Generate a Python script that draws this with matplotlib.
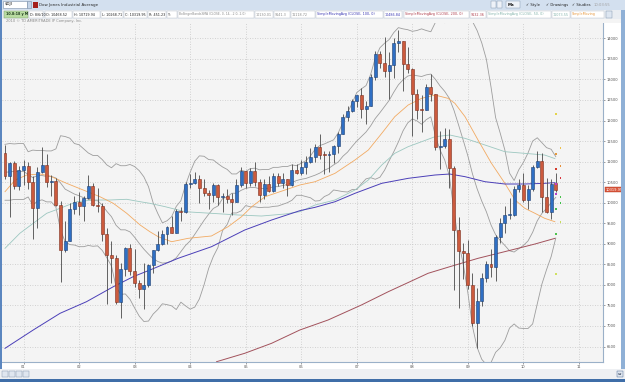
import numpy as np
import matplotlib.pyplot as plt
from matplotlib.patches import Rectangle

# monthly $DJI candles, Sep 2000 .. Aug 2010 (index 0 = Sep 2000)
opens = [11215, 10651, 10971, 10415,
         10788, 10887, 10495, 9879, 10735, 10912, 10502, 10523, 9950, 8848, 9075, 9852,
         10022, 9920, 10106, 10404, 9946, 9925, 9243, 8737, 8664, 7592, 8397, 8896,
         8342, 8054, 7891, 7992, 8480, 8850, 8985, 9234, 9416, 9275, 9801, 9782,
         10454, 10488, 10584, 10358, 10226, 10188, 10435, 10140, 10174, 10080, 10027, 10428,
         10783, 10490, 10766, 10504, 10193, 10467, 10275, 10641, 10482, 10569, 10440, 10806,
         10718, 10865, 10993, 11109, 11367, 11168, 11150, 11186, 11381, 11679, 12081, 12222,
         12463, 12622, 12269, 12354, 13063, 13628, 13409, 13212, 13358, 13896, 13930, 13372,
         13265, 12650, 12266, 12263, 12820, 12638, 11350, 11378, 11544, 10851, 9325, 8829,
         8776, 8001, 7063, 7609, 8168, 8500, 8447, 9172, 9496, 9712, 9713, 10345,
         10428, 10067, 10325, 10857, 11009, 10137, 9774, 10468]
highs = [11401, 10984, 11011, 10899,
         11029, 10983, 10652, 10879, 11350, 11175, 10663, 10610, 10033, 9546, 9982, 10171,
         10259, 10164, 10673, 10479, 10352, 9997, 9380, 9077, 8734, 8538, 8932, 8994,
         8870, 8109, 8522, 8515, 8850, 9323, 9338, 9428, 9686, 9837, 9899, 10494,
         10702, 10754, 10678, 10571, 10297, 10480, 10445, 10240, 10342, 10239, 10572, 10868,
         10783, 10842, 10984, 10570, 10569, 10650, 10720, 10720, 10720, 10570, 10938, 10940,
         11048, 11137, 11335, 11421, 11670, 11247, 11253, 11415, 11725, 12167, 12361, 12529,
         12630, 12795, 12470, 13120, 13692, 13692, 14022, 13657, 14000, 14198, 13930, 13779,
         13279, 12767, 12622, 12892, 13136, 12638, 11734, 11809, 11790, 10882, 9654, 9026,
         9088, 8280, 7925, 8281, 8587, 8878, 9214, 9631, 9918, 10119, 10406, 10580,
         10730, 10433, 10908, 11258, 11206, 10594, 10580, 10720]
lows = [10588, 9654, 10333, 10318,
        10434, 10339, 9106, 9389, 10716, 10371, 10175, 9918, 8062, 8803, 9060, 9729,
        9712, 9555, 10100, 9909, 9770, 9064, 7532, 8043, 7528, 7197, 8226, 8232,
        7945, 7673, 7417, 7958, 8285, 8817, 8961, 9000, 9275, 9275, 9560, 9754,
        10368, 10448, 10004, 10171, 9852, 10027, 9938, 9784, 9996, 9708, 10028, 10390,
        10368, 10408, 10404, 10012, 10094, 10271, 10270, 10397, 10351, 10156, 10406, 10688,
        10662, 10700, 10960, 10990, 11059, 10698, 10739, 10960, 11204, 11663, 11988, 12196,
        12339, 12050, 11926, 12354, 12979, 13266, 13054, 12518, 13029, 13675, 12724, 13168,
        11634, 12047, 11731, 12264, 12480, 11288, 10827, 11335, 10365, 7882, 7449, 8149,
        7909, 7009, 6470, 7494, 8065, 8187, 8088, 9019, 9253, 9594, 9669, 10259,
        10025, 9835, 10276, 10853, 9774, 9757, 9614, 10269]
closes = [10651, 10971, 10415, 10788,
          10887, 10495, 9879, 10735, 10912, 10502, 10523, 9950, 8848, 9075, 9852, 10022,
          9920, 10106, 10404, 9946, 9925, 9243, 8737, 8664, 7592, 8397, 8896, 8342,
          8054, 7891, 7992, 8480, 8850, 8985, 9234, 9416, 9275, 9801, 9782, 10454,
          10488, 10584, 10358, 10226, 10188, 10435, 10140, 10174, 10080, 10027, 10428, 10783,
          10490, 10766, 10504, 10193, 10467, 10275, 10641, 10482, 10569, 10440, 10806, 10718,
          10865, 10993, 11109, 11367, 11168, 11150, 11186, 11381, 11679, 12081, 12222, 12463,
          12622, 12269, 12354, 13063, 13628, 13409, 13212, 13358, 13896, 13930, 13372, 13265,
          12650, 12266, 12263, 12820, 12638, 11350, 11378, 11544, 10851, 9325, 8829, 8776,
          8001, 7063, 7609, 8168, 8500, 8447, 9172, 9496, 9712, 9713, 10345, 10428,
          10067, 10325, 10857, 11009, 10137, 9774, 10466, 10320]

# BollingerBandsSMA (14, 2.0), one value per candle
bb_upper = [11420, 11440, 11430, 11440, 11440, 11240, 11280, 11270, 11270, 11260, 11260, 11310,
            11630, 11610, 11570, 11440, 11410, 11310, 11210, 11150, 11150, 11050, 10920, 10850,
            10950, 10900, 10900, 10930, 10880, 10780, 10630, 10390, 10000, 9740, 9510, 9560,
            9660, 9910, 10050, 10430, 10740, 11010, 11140, 11130, 11050, 11040, 10950, 10870,
            10810, 10700, 10700, 10790, 10760, 10830, 10840, 10800, 10810, 10810, 10860, 10860,
            10880, 10880, 10920, 10900, 10960, 11020, 11140, 11300, 11390, 11430, 11480, 11530,
            11700, 11950, 12190, 12420, 12680, 12770, 12850, 13120, 13520, 13770, 13880, 13970,
            14140, 14260, 14230, 14210, 14170, 14190, 14230, 14190, 14160, 14390, 14410, 14380,
            14430, 14710, 14730, 14540, 14470, 14410, 14190, 13890, 13490, 12820, 12070, 11690,
            11280, 10720, 10540, 10800, 10980, 11210, 11500, 11580, 11460, 11340, 11300, 11120]
bb_middle = [10740, 10750, 10760, 10760, 10760, 10690, 10610, 10660, 10660, 10640, 10640, 10600,
             10480, 10330, 10270, 10210, 10170, 10120, 10090, 10050, 10050, 9940, 9790, 9660,
             9450, 9340, 9340, 9290, 9160, 9010, 8870, 8750, 8640, 8570, 8530, 8540,
             8580, 8660, 8810, 8960, 9070, 9230, 9400, 9570, 9720, 9860, 9920, 10100,
             10140, 10230, 10230, 10300, 10350, 10370, 10370, 10340, 10350, 10350, 10390, 10390,
             10420, 10440, 10490, 10540, 10570, 10590, 10630, 10670, 10720, 10790, 10840, 10920,
             10990, 11130, 11230, 11370, 11500, 11610, 11720, 11870, 12050, 12190, 12340, 12490,
             12690, 12870, 12990, 13080, 13110, 13090, 13070, 13110, 13130, 13000, 12840, 12710,
             12540, 12250, 11890, 11520, 11140, 10700, 10340, 10040, 9780, 9460, 9220, 9080,
             8960, 8830, 8800, 8880, 8960, 9070, 9280, 9560, 9740, 9860, 10000, 10130]
bb_lower = [10060, 10060, 10080, 10080, 10080, 10140, 9940, 10040, 10070, 10020, 10020, 9890,
            9330, 9050, 8980, 8970, 8930, 8930, 8960, 8940, 8950, 8840, 8660, 8460,
            7950, 7770, 7780, 7650, 7440, 7240, 7110, 7120, 7290, 7400, 7540, 7520,
            7490, 7400, 7580, 7490, 7410, 7460, 7660, 8000, 8400, 8690, 8910, 9320,
            9470, 9750, 9750, 9800, 9930, 9900, 9900, 9880, 9890, 9890, 9910, 9920,
            9960, 10000, 10060, 10180, 10180, 10150, 10120, 10040, 10050, 10150, 10200, 10310,
            10290, 10270, 10260, 10320, 10320, 10460, 10580, 10610, 10570, 10620, 10790, 11020,
            11240, 11480, 11750, 11940, 12040, 11990, 11910, 12020, 12090, 11620, 11280, 11040,
            10650, 9800, 9050, 8510, 7810, 6990, 6480, 6190, 6060, 6110, 6360, 6470,
            6650, 6950, 7050, 6950, 6940, 6940, 7050, 7540, 8020, 8370, 8690, 9140]

# moving averages: (month index, value)
sma20_x = [0, 2.2, 4.7, 7.6, 9.7, 13.3, 16.9, 20.5, 23.4, 26.3, 29.2, 31.3, 33.1, 36, 39.6, 44.6,
           48.2, 51.1, 53.3, 56.2, 60.5, 63.7, 67, 71.3, 75.6, 78.5, 81.4, 84.2, 87.1, 90, 92.9,
           95.7, 97.2, 99.4, 102.2, 105.1, 108, 110.2, 112.3, 114.5, 116.6, 118.8]
sma20_y = [10268, 10552, 10674, 10698, 10650, 10472, 10309, 10146, 9985, 9742, 9457, 9294, 9173,
           9051, 9134, 9190, 9416, 9659, 9903, 10146, 10309, 10431, 10511, 10715, 11039, 11282,
           11688, 12092, 12377, 12540, 12620, 12540, 12418, 12092, 11526, 10959, 10472, 10066,
           9864, 9742, 9620, 9538]
sma50_x = [0, 3.2, 6.1, 9, 11.9, 15.5, 19.1, 22.7, 26.3, 29.2, 31.3, 34.6, 38.9, 44.6, 50.4,
           55.4, 60.5, 63.7, 67, 71.3, 75.6, 78.5, 81.4, 84.2, 87.1, 90, 92.9, 96.1, 99.4, 103.7,
           108, 112.3, 116.6, 118.8]
sma50_y = [8890, 9255, 9499, 9742, 9864, 10024, 10066, 10066, 10083, 10024, 9985, 9903, 9781,
           9742, 9701, 9676, 9725, 9781, 9944, 10066, 10309, 10552, 10917, 11201, 11363, 11484,
           11606, 11647, 11566, 11404, 11241, 11201, 11160, 11074]
sma100_x = [0, 6.1, 11.9, 17.6, 23.4, 27.7, 31.3, 37.4, 44.6, 51.8, 57.6, 63.7, 67, 71.3, 75.6,
            81.4, 87.1, 92.9, 96.1, 99.4, 103.7, 108, 112.3, 116.6, 118.8]
sma100_y = [6457, 6903, 7309, 7591, 7956, 8200, 8362, 8647, 8929, 9336, 9579, 9806, 9888, 10024,
            10228, 10472, 10593, 10674, 10698, 10633, 10511, 10455, 10455, 10472, 10487]
sma200_x = [45.7, 51.8, 57.6, 63.7, 69.8, 77.0, 82.8, 87.5, 91.4, 96.1, 102.2, 109.4, 114.5, 118.8]
sma200_y = [6131, 6336, 6579, 6903, 7146, 7511, 7834, 8078, 8282, 8443, 8647, 8849, 8995, 9132]

# projection dots at the right end
dot_x = [119, 120, 119, 120, 119, 120, 119, 119, 120, 120, 119, 120, 119, 119]
dot_y = [12158, 11338, 11185, 10893, 10827, 10601, 10447, 10219, 10146, 9993, 9847, 9523, 9246, 8265]
dot_c = ['#e4d34a', '#eec14a', '#e39a3e', '#e6903a', '#d33a2c', '#d8343c', '#c23cc0', '#b840c8',
         '#49c04a', '#3fbf4a', '#46b84c', '#c6dc5a', '#4ec24e', '#cfe060']

year_labels = ['01', '02', '03', '04', '05', '06', '07', '08', '09', '10', '11']
price_ticks = list(range(6500, 14001, 500))
last_price = '10319.95'

# header strip: (text, left px, right px, colour)
info_boxes = [('D: 8/6/10', 29, 44, '#222222'), ('O: 10468.52', 45, 72, '#222222'),
              ('H: 10719.94', 73, 100, '#222222'), ('L: 10268.71', 101, 123, '#222222'),
              ('C: 10319.95', 124, 147, '#222222'), ('R: 451.23', 148, 166, '#222222'),
              ('Y:', 167, 177, '#222222'),
              ('BollingerBandsSMA (CLOSE, 0, 14, -2.0, 2.0)', 178, 254, '#8a8a8a'),
              ('10130.01', 255, 273, '#8a8a8a'), ('9141.3', 274, 290, '#8a8a8a'),
              ('11118.72', 291, 315, '#8a8a8a'),
              ('SimpleMovingAvg (CLOSE, 100, 0)', 316, 383, '#3b38b4'),
              ('10486.84', 384, 403, '#3b38b4'),
              ('SimpleMovingAvg (CLOSE, 200, 0)', 404, 469, '#b0404e'),
              ('9132.36', 470, 486, '#b0404e'),
              ('SimpleMovingAvg (CLOSE, 50, 0)', 487, 551, '#86b5ad'),
              ('11073.55', 552, 570, '#86b5ad'),
              ('SimpleMoving', 571, 604, '#e89a40')]

W, H = 625, 382
fig = plt.figure(figsize=(W / 100, H / 100), dpi=100)
fig.patch.set_facecolor('white')


def frect(x, y, w, h, **kw):
    kw.setdefault('edgecolor', 'none')
    fig.add_artist(Rectangle((x / W, 1 - (y + h) / H), w / W, h / H,
                             transform=fig.transFigure, **kw))


def ftext(x, y, s, **kw):
    kw.setdefault('fontsize', 2.7)
    kw.setdefault('va', 'center')
    fig.text(x / W, 1 - y / H, s, **kw)


# window chrome
frect(0, 0, W, 10, facecolor='#d3e0ef')
frect(0, 10, W, 9, facecolor='#e9edf2')
frect(0, 19, W, 4, facecolor='#f4f4f4')
frect(0, 0, 2, H, facecolor='#5b86bf')
frect(W - 4, 10, 4, H - 10, facecolor='#8fb0d6')
frect(0, 369, W, 10, facecolor='#eef0f3')
frect(0, H - 3, W, 3, facecolor='#3f6ea8')

ax = fig.add_axes([2 / W, 1 - 362 / H, 601 / W, 343 / H])
ax.set_facecolor('#f4f4f4')
ax.set_xlim(-0.65, 129.2)
ax.set_ylim(6124, 14470)

# grid
for p in price_ticks:
    ax.axhline(p, color='#c6c6c6', lw=0.6, ls=(0, (1, 2)), zorder=0)
year_pos = [4 + 12 * k for k in range(len(year_labels))]
for xp in year_pos:
    ax.axvline(xp, color='#c6c6c6', lw=0.6, ls=(0, (1, 2)), zorder=0)

# studies
idx = np.arange(len(closes))
lw = 0.6
for band in (bb_upper, bb_middle, bb_lower):
    ax.plot(idx, band, color='#9d9d9d', lw=lw, zorder=2)
ax.plot(sma50_x, sma50_y, color='#9cc7c0', lw=lw, zorder=2)
ax.plot(sma20_x, sma20_y, color='#f2aa62', lw=lw, zorder=2)
ax.plot(sma100_x, sma100_y, color='#4b3fb8', lw=0.7, zorder=2)
ax.plot(sma200_x, sma200_y, color='#a2525c', lw=0.7, zorder=2)

# candles
o = np.array(opens)
c = np.array(closes)
up = c >= o
ax.vlines(idx, lows, highs, color='#4a4a4a', lw=0.6, zorder=3)
bottoms = np.minimum(o, c)
heights = np.maximum(np.abs(c - o), 25)
ax.bar(idx[up], heights[up], bottom=bottoms[up], width=0.64, color='#2f6fc4',
       edgecolor='#1d3e70', lw=0.4, zorder=4)
ax.bar(idx[~up], heights[~up], bottom=bottoms[~up], width=0.64, color='#cc5a3d',
       edgecolor='#7d2e1d', lw=0.4, zorder=4)

ax.scatter(dot_x, dot_y, s=1.6, c=dot_c, marker='s', lw=0, zorder=5)

# axes styling
for s in ['top', 'left']:
    ax.spines[s].set_visible(False)
ax.spines['right'].set_color('#9ab0c8')
ax.spines['bottom'].set_color('#9ab0c8')
ax.spines['right'].set_linewidth(0.8)
ax.spines['bottom'].set_linewidth(0.8)
ax.yaxis.tick_right()
ax.set_yticks(price_ticks)
ax.set_yticklabels([str(p) for p in price_ticks])
ax.tick_params(axis='y', labelsize=2.6, length=1.5, width=0.4, pad=1.2, colors='#555555')
ax.set_xticks(year_pos)
ax.set_xticklabels(year_labels)
ax.tick_params(axis='x', labelsize=2.6, length=1.2, width=0.4, pad=1.2, colors='#555555')

# last price flag
ax.text(1.004, (10320 - 6124) / (14470 - 6124), last_price, transform=ax.transAxes,
        fontsize=2.6, color='white', va='center', ha='left',
        bbox=dict(boxstyle='square,pad=0.2', fc='#d9553a', ec='#b03a22', lw=0.3))

# header, first row
frect(3, 1, 24, 7, facecolor='white', edgecolor='#7a8fa8', lw=0.4)
ftext(4.5, 4.5, '$DJI', color='black', fontsize=2.8)
frect(27, 1, 4, 7, facecolor='#c4d4e8', edgecolor='#7a8fa8', lw=0.4)
frect(33, 1.5, 5, 6, facecolor='#a4201c')
ftext(39, 4.6, 'Dow Jones Industrial Average', color='#2a2a2a', fontsize=2.9)
for bx, bw in [(491, 5), (497, 5), (506, 14)]:
    frect(bx, 1, bw, 7, facecolor='#eef2f8', edgecolor='#7a8fa8', lw=0.3)
ftext(508, 4.6, 'Ma', color='#111111', fontsize=2.9, weight='bold')
ftext(526, 4.6, '\u2713 Style', color='#222222', fontsize=2.7)
ftext(546, 4.6, '\u2713 Drawings', color='#222222', fontsize=2.7)
ftext(572, 4.6, '\u2713 Studies', color='#222222', fontsize=2.7)
ftext(594, 4.6, '10:03:55', color='#a0a0a0', fontsize=2.7)

# header, second row
frect(4, 11, 24, 7, facecolor='#b9dca2', edgecolor='#7a9a6a', lw=0.3)
ftext(5.5, 14.5, '10.8:18 y M', color='#1d3a1d', fontsize=2.4, weight='bold')
for txt, x0, x1, col in info_boxes:
    frect(x0, 11, x1 - x0 - 0.5, 7, facecolor='white', edgecolor='#b8c0ca', lw=0.3)
    fs = 2.2 if len(txt) > 35 else 2.4
    ftext(x0 + 1.0, 14.5, txt, color=col, fontsize=fs)
frect(606, 11, 6, 7, facecolor='#dde6f1', edgecolor='#7a8fa8', lw=0.3)
ftext(6, 21, '2010 \u00a9 TD AMERITRADE IP Company, Inc.', color='#8a8a8a', fontsize=2.6)

# bottom toolbar
for k in range(4):
    frect(2 + k * 7, 371, 6, 6, facecolor='#dfe6ef', edgecolor='#7a8fa8', lw=0.3)
frect(617, 371, 6, 6, facecolor='#dfe6ef', edgecolor='#3c5f8a', lw=0.3)
ftext(620, 374, '\u21d4', color='#1b2a44', fontsize=3, ha='center')

fig.savefig('out.png', dpi=100, facecolor=fig.get_facecolor())
